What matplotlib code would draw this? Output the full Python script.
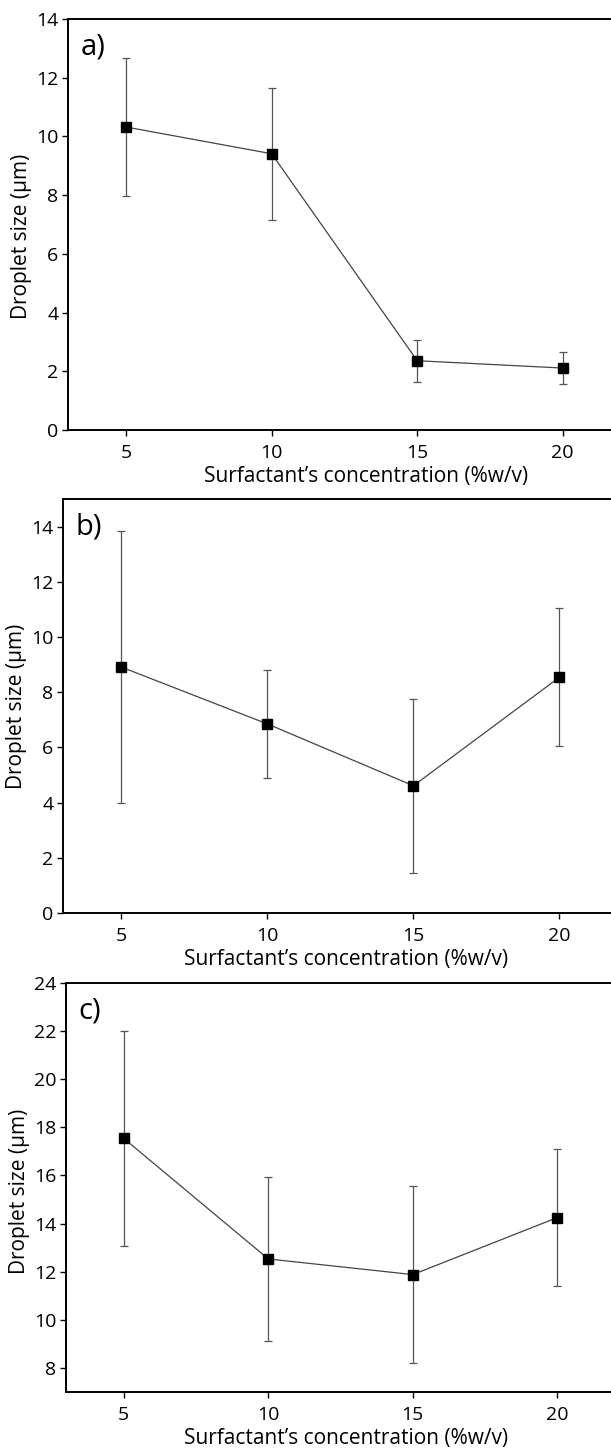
import matplotlib
matplotlib.use('Agg')
import matplotlib.pyplot as plt
import numpy as np

plt.rcParams['font.family'] = ['Open Sans', 'DejaVu Sans']

# 界面活性劑濃度 (%w/v)
conc = [5, 10, 15, 20]

# a) 粒徑與誤差
size_a = [10.32, 9.41, 2.36, 2.11]
err_a = [2.35, 2.25, 0.71, 0.56]

# b)
size_b = [8.91, 6.85, 4.61, 8.54]
err_b = [4.93, 1.95, 3.15, 2.50]

# c)
size_c = [17.54, 12.53, 11.88, 14.25]
err_c = [4.48, 3.42, 3.68, 2.83]

W, H = 611, 1452
fig = plt.figure(figsize=(W / 100, H / 100), dpi=100)

panels = [
    # (label, y, err, ylim, yticks, xmax, left_px, top_px, bottom_px, px_per_unit, ylabel_y)
    ('a)', size_a, err_a, (0, 14), np.arange(0, 15, 2), 23.5, 68, 19, 430, 29.1, 0.47),
    ('b)', size_b, err_b, (0, 15), np.arange(0, 15, 2), 22.4, 63, 499, 913, 29.2, 0.5),
    ('c)', size_c, err_c, (7, 24), np.arange(8, 25, 2), 22.4, 66, 983, 1392, 28.9, 0.49),
]

for lab, y, e, ylim, yt, xmax, lpx, tpx, bpx, ppu, yly in panels:
    width_px = (xmax - 3) * ppu
    ax = fig.add_axes([lpx / W, 1 - bpx / H, width_px / W, (bpx - tpx) / H])
    ax.errorbar(conc, y, yerr=e, fmt='none', ecolor='#555555', elinewidth=0.9,
                capsize=3, capthick=0.9, zorder=2)
    ax.plot(conc, y, '-', color='#444444', lw=0.9, zorder=3)
    ax.plot(conc, y, 's', color='black', ms=7, zorder=4)
    ax.set_xlim(3, xmax)
    ax.set_ylim(*ylim)
    ax.set_xticks(conc)
    ax.set_yticks(yt)
    ax.tick_params(direction='out', length=4, width=1, labelsize=14,
                   top=False, right=False, pad=3)
    ax.tick_params(axis='x', pad=6)
    for s in ax.spines.values():
        s.set_linewidth(1.4)
    ax.set_xlabel('Surfactant\u2019s concentration (%w/v)', fontsize=15, labelpad=3)
    ax.set_ylabel('Droplet size (\u00b5m)', fontsize=15, labelpad=3)
    ax.yaxis.label.set_y(yly)
    ax.text(0.022, 0.968, lab, transform=ax.transAxes, fontsize=21,
            ha='left', va='top')

fig.savefig('out.png', dpi=100, facecolor='white')
